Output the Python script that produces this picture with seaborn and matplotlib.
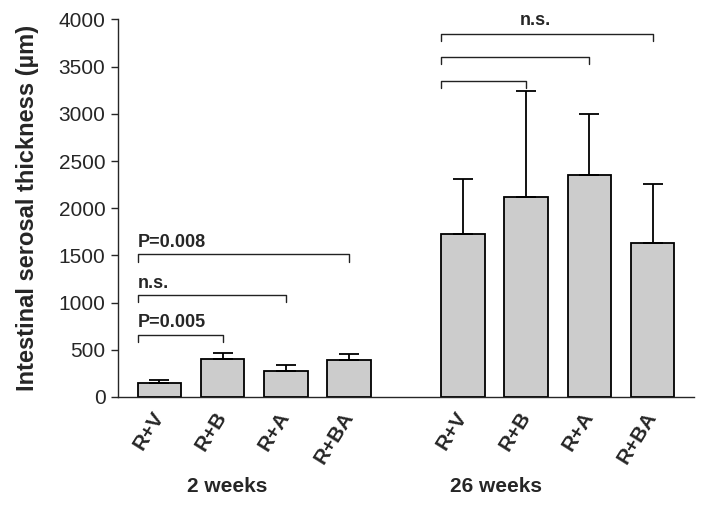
import pandas as pd
import numpy as np
import matplotlib
matplotlib.use("Agg")
import matplotlib.pyplot as plt
import matplotlib.transforms as mtransforms
import seaborn as sns

# ---- data ----
treatments = ["R+V", "R+B", "R+A", "R+BA"]
groups = ["2 weeks", "26 weeks"]
mean_2wk = [145, 399, 275, 389]
sd_2wk = [32, 67, 64, 70]
mean_26wk = [1725, 2120, 2355, 1635]
sd_26wk = [585, 1120, 645, 620]

# significance brackets: (from idx, to idx, height, label)
brackets_2wk = [(0, 1, 660, "P=0.005"), (0, 2, 1080, "n.s."), (0, 3, 1510, "P=0.008")]
brackets_26wk = [(0, 1, 3350, ""), (0, 2, 3600, ""), (0, 3, 3845, "n.s.")]

group_gap = 4.8  # x offset of the second group (in bar units)

rows = []
for g, (means, sds) in enumerate([(mean_2wk, sd_2wk), (mean_26wk, sd_26wk)]):
    for i, t in enumerate(treatments):
        rows.append({"group": groups[g], "treatment": t,
                     "pos": i + g * group_gap, "mean": means[i], "sd": sds[i]})
df = pd.DataFrame(rows)

sns.set_style("ticks")
plt.rcParams["font.family"] = ["Liberation Sans", "DejaVu Sans"]

fig = plt.figure(figsize=(7.04, 5.05), dpi=100)
ax = fig.add_axes([0.1676, 0.2139, 0.8182, 0.7475])

sns.barplot(data=df, x="pos", y="mean", native_scale=True, width=0.69,
            color="#cccccc", saturation=1, edgecolor="black", linewidth=1.3,
            errorbar=None, ax=ax)

ax.errorbar(df["pos"], df["mean"], yerr=[np.zeros(len(df)), df["sd"]],
            fmt="none", ecolor="black", elinewidth=1.3, capsize=7, capthick=1.3,
            zorder=3)

# brackets
tick_len = 75
for g, brs in enumerate([brackets_2wk, brackets_26wk]):
    off = g * group_gap
    for a, b, h, lab in brs:
        x0 = off + a - 0.345
        x1 = off + b
        ax.plot([x0, x0, x1, x1], [h - tick_len, h, h, h - tick_len],
                color="#222222", lw=1.0, clip_on=False)
        if lab:
            if g == 0:
                ax.text(x0, h + 35, lab, ha="left", va="bottom",
                        fontsize=13, fontweight="bold")
            else:
                ax.text(off + 1.15, h + 50, lab, ha="center", va="bottom",
                        fontsize=13, fontweight="bold")

ax.set_xlim(-0.656, 3 + group_gap + 0.656)
ax.set_ylim(0, 4000)
ax.set_yticks(range(0, 4001, 500))
ax.set_xticks(df["pos"])
ax.set_xticklabels(df["treatment"], rotation=58, ha="right", va="center",
                   rotation_mode="anchor", fontsize=15, fontweight="bold")
ax.tick_params(axis="x", length=0, pad=12)
ax.tick_params(axis="y", length=5, width=1, labelsize=15, direction="out", pad=4)
ax.set_xlabel("")
ax.set_ylabel("Intestinal serosal thickness (µm)", fontsize=17,
              fontweight="bold", labelpad=14)
for s in ["left", "bottom"]:
    ax.spines[s].set_linewidth(1.0)
sns.despine(ax=ax)

trans = mtransforms.blended_transform_factory(ax.transData, fig.transFigure)
ax.text(1.07, 1 - 486 / 505, groups[0], transform=trans, ha="center",
        va="center", fontsize=15, fontweight="bold")
ax.text(group_gap + 0.53, 1 - 486 / 505, groups[1], transform=trans, ha="center",
        va="center", fontsize=15, fontweight="bold")

fig.savefig("out.png", dpi=100, facecolor="white")
